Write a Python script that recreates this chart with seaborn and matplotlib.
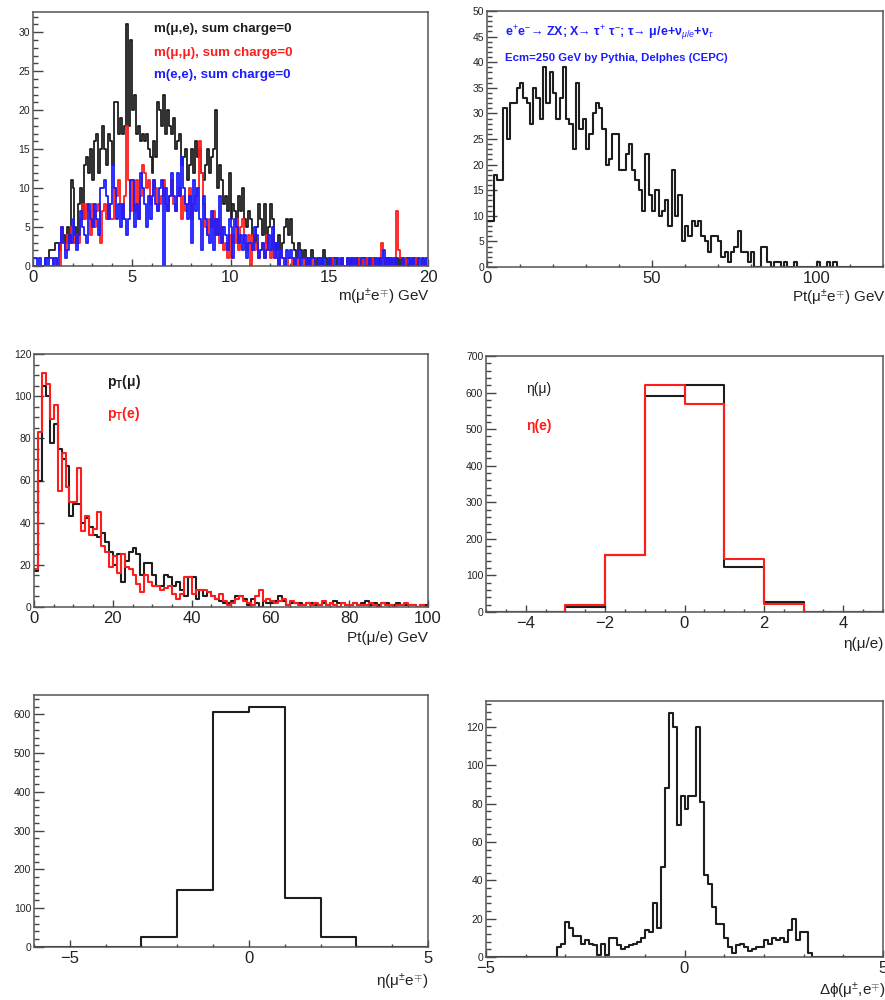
import numpy as np
import pandas as pd
import matplotlib
matplotlib.use("Agg")
import matplotlib.pyplot as plt
from matplotlib.ticker import MultipleLocator
import seaborn as sns

# ---------------- m(l,l) invariant mass: 0.1 GeV bins, 0-20 GeV ----------------
mass_start, mass_width = 0.0, 0.1
m_mu_e = [
    0, 0, 0, 0, 0, 0, 1, 1, 2, 2,
    2, 3, 3, 2, 4, 4, 3, 5, 3, 11,
    10, 5, 3, 8, 10, 6, 13, 14, 12, 15,
    11, 16, 17, 12, 15, 18, 15, 13, 17, 16,
    13, 21, 21, 17, 19, 17, 18, 31, 18, 29,
    20, 22, 17, 18, 16, 17, 16, 17, 15, 14,
    12, 16, 14, 21, 20, 18, 22, 17, 20, 18,
    17, 19, 15, 16, 17, 13, 14, 15, 11, 13,
    15, 12, 16, 14, 15, 12, 11, 13, 15, 12,
    14, 15, 20, 10, 13, 11, 8, 9, 7, 12,
    6, 8, 7, 5, 9, 7, 10, 6, 5, 7,
    6, 4, 3, 5, 8, 6, 4, 8, 3, 5,
    8, 6, 3, 2, 4, 2, 3, 5, 6, 4,
    6, 3, 2, 1, 3, 2, 1, 2, 1, 0,
    1, 2, 1, 0, 1, 1, 0, 2, 1, 0,
    1, 0, 1, 1, 0, 0, 1, 0, 0, 1,
    0, 1, 0, 0, 1, 0, 0, 1, 1, 0,
    1, 0, 1, 0, 0, 1, 0, 0, 1, 0,
    0, 1, 0, 0, 1, 0, 1, 0, 0, 1,
    1, 0, 0, 1, 0, 0, 0, 0, 0, 0,
]
m_mu_mu = [
    0, 0, 0, 0, 0, 0, 0, 0, 0, 0,
    1, 1, 0, 0, 5, 3, 2, 4, 3, 5,
    5, 3, 4, 3, 6, 8, 6, 8, 7, 4,
    8, 5, 7, 8, 3, 7, 8, 6, 8, 6,
    6, 10, 9, 11, 8, 6, 9, 18, 11, 7,
    11, 7, 11, 6, 9, 13, 12, 10, 11, 8,
    9, 11, 10, 7, 8, 9, 11, 8, 7, 9,
    11, 8, 7, 9, 10, 6, 9, 7, 8, 10,
    6, 8, 9, 10, 16, 12, 8, 5, 4, 6,
    5, 7, 4, 6, 3, 5, 2, 3, 1, 4,
    1, 4, 3, 6, 2, 5, 6, 3, 2, 4,
    0, 4, 2, 3, 1, 2, 3, 1, 4, 2,
    1, 4, 2, 1, 0, 2, 1, 1, 0, 1,
    1, 0, 1, 0, 1, 0, 0, 1, 0, 0,
    0, 0, 1, 0, 0, 1, 0, 0, 0, 0,
    0, 1, 0, 0, 0, 0, 1, 0, 0, 1,
    0, 0, 1, 0, 0, 1, 0, 1, 1, 0,
    0, 1, 0, 1, 0, 0, 3, 1, 0, 1,
    0, 1, 0, 1, 7, 2, 1, 0, 1, 0,
    0, 0, 1, 0, 1, 0, 0, 1, 0, 1,
]
m_e_e = [
    1, 1, 0, 1, 0, 0, 1, 0, 1, 1,
    0, 1, 0, 3, 5, 3, 1, 2, 4, 3,
    6, 4, 2, 4, 7, 5, 4, 3, 8, 6,
    5, 8, 6, 4, 10, 10, 11, 9, 6, 8,
    13, 10, 6, 8, 5, 8, 6, 4, 6, 11,
    11, 5, 8, 6, 12, 10, 8, 5, 9, 6,
    9, 11, 8, 7, 10, 11, 0, 10, 7, 9,
    12, 9, 7, 12, 9, 14, 10, 8, 6, 9,
    3, 11, 7, 10, 6, 2, 9, 6, 4, 3,
    7, 2, 6, 4, 9, 3, 5, 4, 2, 6,
    5, 1, 6, 5, 3, 4, 2, 4, 1, 3,
    3, 2, 5, 4, 1, 2, 3, 1, 2, 4,
    2, 5, 1, 3, 0, 2, 1, 0, 2, 1,
    2, 1, 0, 1, 2, 0, 1, 1, 0, 1,
    0, 1, 1, 0, 0, 1, 0, 1, 0, 0,
    1, 0, 0, 1, 1, 0, 1, 0, 0, 1,
    0, 1, 0, 1, 0, 0, 1, 1, 0, 0,
    1, 0, 0, 1, 0, 1, 0, 2, 0, 1,
    0, 1, 0, 1, 0, 0, 0, 1, 0, 0,
    1, 0, 1, 0, 0, 1, 0, 1, 0, 1,
]

# ---------------- Pt of the mu-e pair: 1 GeV bins from 0 ----------------
pt_pair_start, pt_pair_width = 0.0, 1.0
pt_pair = [
    9, 9, 18, 17, 17, 31, 25, 32, 32, 35,
    36, 33, 32, 28, 35, 33, 29, 39, 32, 38,
    34, 29, 33, 39, 29, 28, 23, 36, 27, 29,
    23, 26, 30, 32, 31, 27, 20, 21, 26, 26,
    19, 19, 22, 24, 19, 17, 15, 11, 22, 14,
    11, 15, 10, 11, 13, 8, 19, 10, 14, 5,
    8, 6, 9, 8, 9, 6, 5, 3, 6, 6,
    5, 2, 3, 1, 3, 4, 7, 3, 3, 1,
    3, 0, 0, 4, 4, 1, 0, 1, 1, 0,
    1, 0, 0, 1, 0, 0, 0, 0, 0, 0,
    1, 0, 0, 1, 0, 1, 0, 0, 0, 0,
    0, 0, 0, 0, 0, 0, 0, 0, 0, 0,
]

# ---------------- Pt of single leptons: 1 GeV bins, 0-100 GeV ----------------
pt_lep_start, pt_lep_width = 0.0, 1.0
pt_mu = [
    17, 60, 105, 100, 78, 87, 75, 70, 67, 43,
    49, 49, 40, 42, 38, 34, 33, 35, 31, 26,
    20, 25, 12, 22, 26, 28, 25, 15, 21, 21,
    15, 10, 10, 15, 14, 10, 12, 8, 5, 14,
    14, 4, 8, 5, 7, 5, 4, 3, 2, 2,
    3, 5, 5, 4, 1, 4, 2, 0, 3, 2,
    2, 3, 5, 3, 1, 2, 2, 2, 1, 2,
    2, 1, 1, 2, 1, 2, 3, 2, 2, 1,
    1, 2, 1, 2, 3, 1, 2, 1, 2, 2,
    1, 1, 2, 1, 1, 1, 1, 0, 1, 1,
]
pt_e = [
    18, 83, 111, 106, 89, 96, 55, 73, 57, 50,
    50, 66, 36, 43, 34, 37, 45, 29, 26, 19,
    24, 16, 25, 19, 18, 15, 11, 7, 15, 12,
    10, 10, 8, 9, 10, 6, 4, 6, 14, 14,
    6, 8, 8, 8, 7, 5, 4, 6, 3, 1,
    2, 4, 5, 3, 2, 1, 5, 8, 3, 4,
    3, 2, 3, 4, 1, 3, 2, 1, 1, 2,
    1, 2, 1, 3, 1, 2, 1, 0, 2, 1,
    1, 2, 1, 1, 1, 2, 1, 0, 2, 1,
    1, 0, 1, 1, 2, 1, 1, 0, 1, 0,
]

# ---------------- eta of single leptons: unit bins, -5..5 ----------------
eta_lep_start, eta_lep_width = -5.0, 1.0
eta_mu = [0, 0, 15, 155, 591, 622, 122, 27, 0, 0]
eta_e = [0, 0, 18, 155, 622, 570, 146, 22, 0, 0]

# ---------------- eta of the pair: unit bins, -6..5 ----------------
eta_pair_start, eta_pair_width = -6.0, 1.0
eta_pair = [0, 0, 0, 25, 146, 607, 619, 127, 25, 0, 0]

# ---------------- delta phi of the pair: 0.1 bins, filled from -3.2 ----------------
dphi_start, dphi_width = -3.2, 0.1
dphi_pair = [
    5, 7, 18, 15, 11, 11, 7, 9, 7, 6,
    1, 7, 1, 10, 10, 6, 4, 5, 6, 7,
    8, 10, 14, 13, 28, 15, 47, 88, 127, 120,
    69, 84, 77, 84, 84, 120, 81, 43, 38, 26,
    17, 17, 10, 5, 2, 6, 7, 5, 3, 4,
    5, 5, 9, 7, 10, 9, 10, 8, 14, 20,
    9, 13, 13, 2,
]

# ---------------- styling ----------------
sns.set_style("white")
plt.rcParams["font.family"] = ["Liberation Sans", "DejaVu Sans"]
plt.rcParams["mathtext.fontset"] = "custom"
plt.rcParams["mathtext.rm"] = "Liberation Sans"
plt.rcParams["mathtext.it"] = "Liberation Sans:italic"
plt.rcParams["mathtext.bf"] = "Liberation Sans:bold"

BLACK, RED, BLUE = "#1e1e1e", "#ff1c1c", "#1c1cff"
W, H = 885, 1000
fig = plt.figure(figsize=(W / 100, H / 100), dpi=100)


def add_axes(left, top, right, bottom):
    return fig.add_axes([left / W, 1 - bottom / H, (right - left) / W, (bottom - top) / H])


def ftext(x, y, s, **kw):
    fig.text(x / W, 1 - y / H, s, **kw)


def step_hist(ax, counts, start, width, color, lw=1.5):
    counts = np.asarray(counts, dtype=float)
    edges = start + width * np.arange(len(counts) + 1)
    centers = 0.5 * (edges[:-1] + edges[1:])
    df = pd.DataFrame({"x": centers, "w": counts})
    sns.histplot(data=df, x="x", weights="w", bins=list(edges), element="step",
                 fill=False, color=color, linewidth=lw, ax=ax)


def style(ax, xlim, ylim, xmaj, xmin, ymaj, ymin):
    ax.set_xlim(*xlim)
    ax.set_ylim(*ylim)
    ax.xaxis.set_major_locator(MultipleLocator(xmaj))
    ax.xaxis.set_minor_locator(MultipleLocator(xmin))
    ax.yaxis.set_major_locator(MultipleLocator(ymaj))
    ax.yaxis.set_minor_locator(MultipleLocator(ymin))
    ax.tick_params(which="both", direction="in", bottom=True, left=True,
                   top=False, right=False, color="#444444", width=1.0,
                   labelcolor="#222222")
    ax.tick_params(axis="x", which="major", length=5, labelsize=12, pad=3)
    ax.tick_params(axis="x", which="minor", length=2.5)
    ax.tick_params(axis="y", which="major", length=7, labelsize=7.5, pad=2)
    ax.tick_params(axis="y", which="minor", length=3.5)
    ax.set_xlabel("")
    ax.set_ylabel("")
    for sp in ax.spines.values():
        sp.set_color("#555555")
        sp.set_linewidth(1.1)


# (1) invariant masses
ax1 = add_axes(33, 12, 428, 266)
step_hist(ax1, m_mu_e, mass_start, mass_width, BLACK, lw=1.3)
step_hist(ax1, m_mu_mu, mass_start, mass_width, RED, lw=1.3)
step_hist(ax1, m_e_e, mass_start, mass_width, BLUE, lw=1.3)
style(ax1, (0, 20), (0, 32.6), 5, 1, 5, 1)
ftext(154, 29, "m(μ,e), sum charge=0", color=BLACK, fontsize=9.6, weight="bold", va="center")
ftext(154, 53, "m(μ,μ), sum charge=0", color=RED, fontsize=9.6, weight="bold", va="center")
ftext(154, 75, "m(e,e), sum charge=0", color=BLUE, fontsize=9.6, weight="bold", va="center")
ftext(430, 297, "m(μ$^{\\pm}$e$^{\\mp}$) GeV", fontsize=11, ha="right", va="center", color="#222222")

# (2) pair transverse momentum
ax2 = add_axes(487, 11, 883, 267)
step_hist(ax2, pt_pair, pt_pair_start, pt_pair_width, BLACK)
style(ax2, (0, 120), (0, 50), 50, 10, 5, 1)
ftext(505, 33, "e$^{+}$e$^{-}$→ ZX; X→ τ$^{+}$ τ$^{-}$; τ→ μ/e+ν$_{\\mu/e}$+ν$_{\\tau}$",
      color=BLUE, fontsize=9, weight="bold", va="center")
ftext(505, 58, "Ecm=250 GeV by Pythia, Delphes (CEPC)", color=BLUE, fontsize=8.2,
      weight="bold", va="center")
ftext(886, 298, "Pt(μ$^{\\pm}$e$^{\\mp}$) GeV", fontsize=11, ha="right", va="center", color="#222222")

# (3) single-lepton transverse momentum
ax3 = add_axes(34, 354, 428, 607)
step_hist(ax3, pt_mu, pt_lep_start, pt_lep_width, BLACK)
step_hist(ax3, pt_e, pt_lep_start, pt_lep_width, RED)
style(ax3, (0, 100), (0, 120), 20, 5, 20, 5)
ftext(107, 382, "$\\mathbf{p_{T}}$(μ)", color=BLACK, fontsize=10, weight="bold", va="center")
ftext(107, 414, "$\\mathbf{p_{T}}$(e)", color=RED, fontsize=10, weight="bold", va="center")
ftext(428, 638, "Pt(μ/e) GeV", fontsize=11, ha="right", va="center", color="#222222")

# (4) single-lepton pseudorapidity
ax4 = add_axes(486, 356, 883, 612)
step_hist(ax4, eta_mu, eta_lep_start, eta_lep_width, BLACK)
step_hist(ax4, eta_e, eta_lep_start, eta_lep_width, RED)
style(ax4, (-5, 5), (0, 700), 2, 0.5, 100, 20)
ftext(526, 389, "η(μ)", color=BLACK, fontsize=10, va="center")
ftext(526, 426, "η(e)", color=RED, fontsize=10, weight="bold", va="center")
ftext(884, 644, "η(μ/e)", fontsize=11, ha="right", va="center", color="#222222")

# (5) pair pseudorapidity
ax5 = add_axes(34, 695, 428, 947)
step_hist(ax5, eta_pair, eta_pair_start, eta_pair_width, BLACK)
style(ax5, (-6, 5), (0, 650), 5, 1, 100, 20)
ftext(428, 982, "η(μ$^{\\pm}$e$^{\\mp}$)", fontsize=11, ha="right", va="center", color="#222222")

# (6) azimuthal separation, padded with empty bins over the full -5..5 range
ax6 = add_axes(486, 701, 883, 957)
pad_lo = int(round((dphi_start + 5.0) / dphi_width))
dphi_full = np.concatenate([np.zeros(pad_lo), dphi_pair, np.zeros(pad_lo)])
step_hist(ax6, dphi_full, -5.0, dphi_width, BLACK)
style(ax6, (-5, 5), (0, 133.5), 5, 1, 20, 4)
ftext(886, 991, "Δϕ(μ$^{\\pm}$,e$^{\\mp}$)", fontsize=11, ha="right", va="center", color="#222222")

fig.savefig("out.png", dpi=100)
